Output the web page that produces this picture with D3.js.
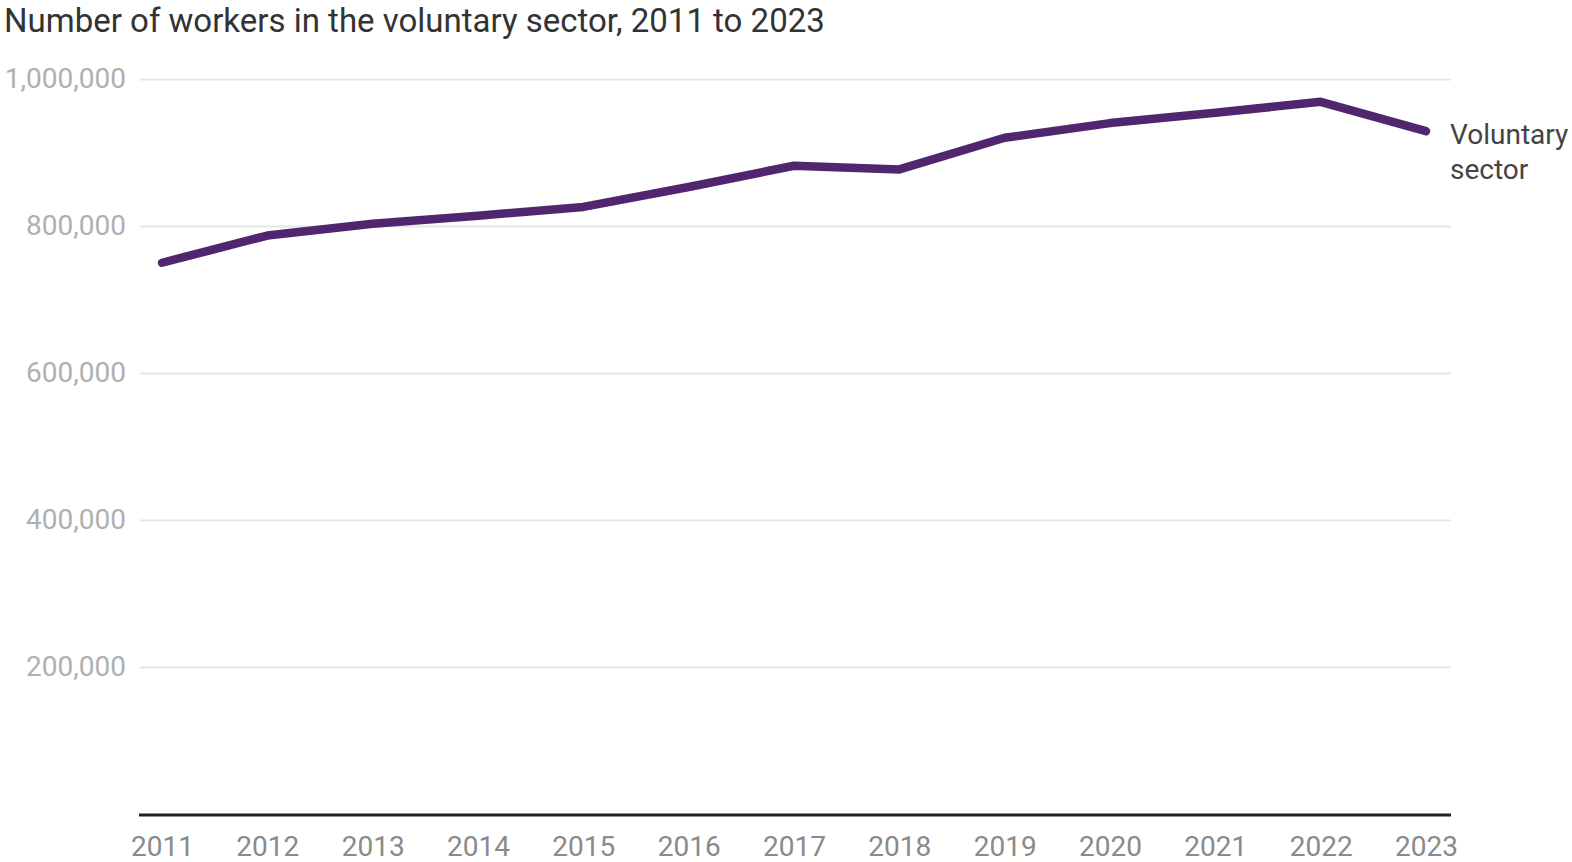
<!DOCTYPE html>
<html>
<head>
<meta charset="utf-8">
<script src="https://cdn.jsdelivr.net/npm/d3@7"></script>
<style>
  body { margin: 0; background: #fff; }
  svg { display: block; font-family: Roboto, sans-serif; }
</style>
</head>
<body>
<svg id="chart" width="1572" height="862"></svg>
<script>
// data
const years = [2011, 2012, 2013, 2014, 2015, 2016, 2017, 2018, 2019, 2020, 2021, 2022, 2023]
const workers = [750000, 787000, 803000, 814000, 826000, 853000, 882000, 877000, 920000, 940000, 954000, 969000, 929000]
const yTicks = [200000, 400000, 600000, 800000, 1000000]
const seriesName = ["Voluntary", "sector"]
const title = "Number of workers in the voluntary sector, 2011 to 2023"

const svg = d3.select("#chart")

const x = d3.scaleLinear().domain([2011, 2023]).range([162, 1426])
const y = d3.scaleLinear().domain([0, 1000000]).range([814, 79])

svg.append("text")
  .attr("x", 4).attr("y", 31.5)
  .style("font-size", "33px")
  .style("fill", "#333")
  .text(title)

// gridlines
const yGrid = d3.axisLeft(y).tickValues(yTicks).tickSize(-(1451 - 140)).tickFormat("")
const gg = svg.append("g").attr("transform", "translate(140,0)").call(yGrid)
gg.select(".domain").remove()
gg.selectAll("line").attr("stroke", "#e6e6e6").attr("stroke-width", 2)

// y labels
const yAxis = d3.axisLeft(y).tickValues(yTicks).tickSize(0).tickPadding(14).tickFormat(d3.format(","))
const ya = svg.append("g").attr("transform", "translate(140,0)").call(yAxis)
ya.select(".domain").remove()
ya.selectAll("text")
  .style("font-size", "28px")
  .style("font-family", "Roboto, sans-serif")
  .style("fill", "#b0b0b0")

// baseline
svg.append("line")
  .attr("x1", 139).attr("x2", 1451)
  .attr("y1", y(0) + 1).attr("y2", y(0) + 1)
  .attr("stroke", "#222").attr("stroke-width", 3)

// x labels
const xAxis = d3.axisBottom(x).tickValues(years).tickSize(0).tickPadding(22).tickFormat(d3.format("d"))
const xa = svg.append("g").attr("transform", `translate(0,${y(0)})`).call(xAxis)
xa.select(".domain").remove()
xa.selectAll("text")
  .style("font-size", "28px")
  .style("font-family", "Roboto, sans-serif")
  .style("fill", "#8a8a8a")

// line
const line = d3.line().x((d, i) => x(years[i])).y(d => y(d))
svg.append("path")
  .datum(workers)
  .attr("d", line)
  .attr("fill", "none")
  .attr("stroke", "#51266f")
  .attr("stroke-width", 8.5)
  .attr("stroke-linecap", "round")
  .attr("stroke-linejoin", "round")

// series label
const lab = svg.append("text")
  .attr("x", 1450).attr("y", 144)
  .style("font-size", "28px")
  .style("fill", "#444")
lab.selectAll("tspan").data(seriesName).enter().append("tspan")
  .attr("x", 1450)
  .attr("dy", (d, i) => i === 0 ? 0 : 35)
  .text(d => d)
</script>
</body>
</html>
